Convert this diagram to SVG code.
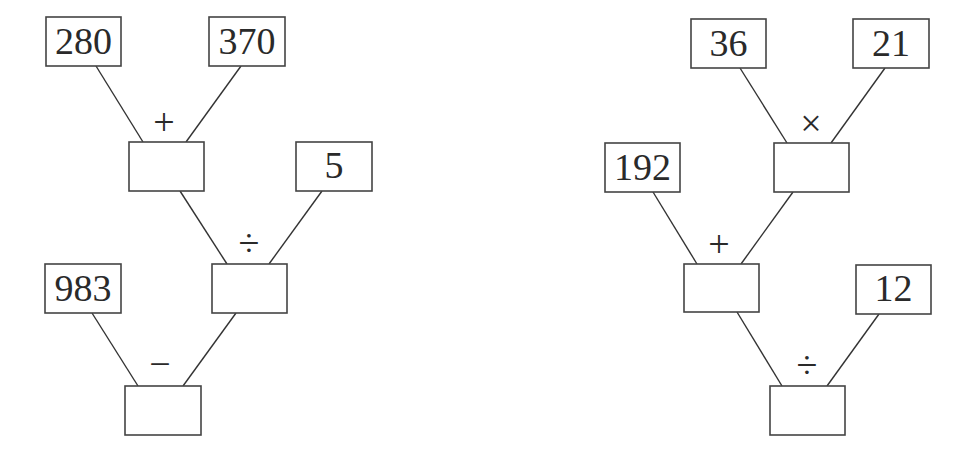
<svg xmlns="http://www.w3.org/2000/svg" width="971" height="453" viewBox="0 0 971 453">
<style>
rect{fill:#fff;stroke:#444;stroke-width:1.6}
line{stroke:#333;stroke-width:1.4}
text{font-family:'Liberation Serif','Times New Roman',serif;fill:#2a2a2a;text-anchor:middle}
.n{font-size:38px}
.o{font-size:38px}
</style>
<rect width="971" height="453" style="fill:#fff;stroke:none"/>
<g id="connectors">
<line x1="96" y1="66" x2="143" y2="142"/>
<line x1="241" y1="66" x2="186" y2="142"/>
<line x1="180" y1="191" x2="227" y2="264"/>
<line x1="322" y1="191" x2="269" y2="264"/>
<line x1="92" y1="313" x2="138" y2="386"/>
<line x1="236" y1="313" x2="183" y2="386"/>
<line x1="740" y1="68" x2="787" y2="143"/>
<line x1="885" y1="68" x2="831" y2="143"/>
<line x1="653" y1="192" x2="697" y2="264"/>
<line x1="793" y1="192" x2="741" y2="264"/>
<line x1="737" y1="312" x2="782" y2="386"/>
<line x1="879" y1="314" x2="827" y2="386"/>
</g>
<g id="n280"><rect x="46" y="17" width="75" height="49"/><text class="n" x="83.5" y="54">280</text></g>
<g id="n370"><rect x="209" y="17" width="76" height="49"/><text class="n" x="247" y="54">370</text></g>
<g id="add1"><rect x="129" y="142" width="75" height="49"/><text class="o" x="164" y="135">+</text></g>
<g id="n5"><rect x="296" y="142" width="76" height="49"/><text class="n" x="334" y="178">5</text></g>
<g id="div1"><rect x="212" y="264" width="75" height="49"/><text class="o" x="249" y="256">÷</text></g>
<g id="n983"><rect x="45" y="264" width="76" height="49"/><text class="n" x="83" y="301">983</text></g>
<g id="sub1"><rect x="125" y="386" width="76" height="49"/><text class="o" x="160" y="377">−</text></g>
<g id="n36"><rect x="691" y="19" width="75" height="49"/><text class="n" x="728.5" y="56">36</text></g>
<g id="n21"><rect x="853" y="19" width="76" height="49"/><text class="n" x="891" y="56">21</text></g>
<g id="mul1"><rect x="774" y="143" width="75" height="49"/><text class="o" x="811" y="136">×</text></g>
<g id="n192"><rect x="605" y="143" width="75" height="49"/><text class="n" x="642.5" y="180">192</text></g>
<g id="add2"><rect x="684" y="264" width="75" height="48"/><text class="o" x="719" y="257">+</text></g>
<g id="n12"><rect x="856" y="265" width="75" height="49"/><text class="n" x="893.5" y="301">12</text></g>
<g id="div2"><rect x="770" y="386" width="75" height="49"/><text class="o" x="807" y="378">÷</text></g>
</svg>
